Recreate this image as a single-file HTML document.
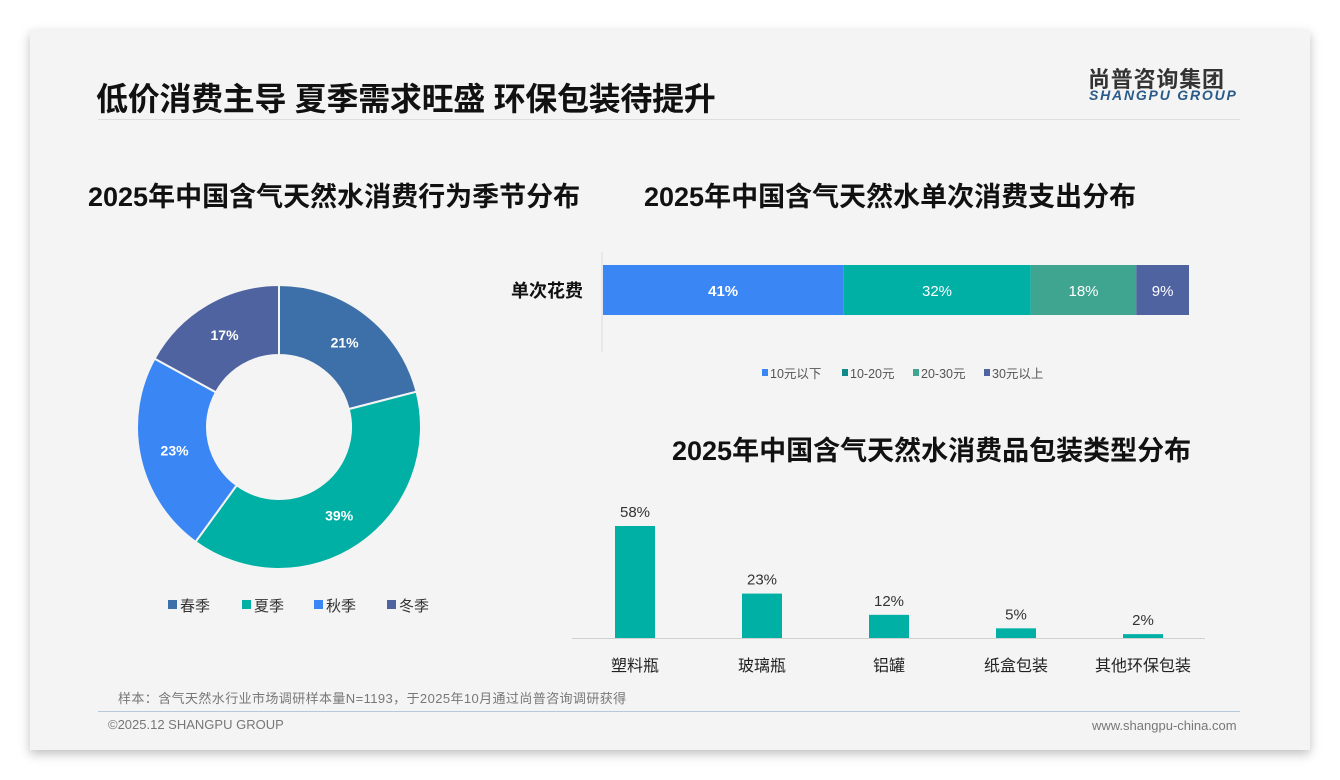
<!DOCTYPE html>
<html><head><meta charset="utf-8">
<style>
body{margin:0;width:1340px;height:780px;background:#fff;overflow:hidden;font-family:"Liberation Sans","Noto Sans CJK SC",sans-serif;}
#card{position:absolute;left:30px;top:30px;width:1280px;height:720px;background:#f4f4f4;box-shadow:0 4px 10px rgba(0,0,0,0.25);}
.t{position:absolute;white-space:nowrap;}
</style></head>
<body>
<div id="card"></div>
<div class="t" style="left:96px;top:74px;font-size:32px;font-weight:bold;color:#111;letter-spacing:-0.3px;">低价消费主导 夏季需求旺盛 环保包装待提升</div>
<div style="position:absolute;left:98px;top:119px;width:1142px;height:1px;background:#ddd;"></div>
<div class="t" style="left:1088px;top:62px;font-size:22px;font-weight:bold;color:#333;letter-spacing:0.8px;">尚普咨询集团</div>
<div class="t" style="left:1089px;top:87px;font-size:14px;font-weight:bold;font-style:italic;color:#2a5a8a;letter-spacing:1.8px;">SHANGPU GROUP</div>
<div class="t" style="left:88px;top:175px;font-size:27px;font-weight:bold;color:#111;">2025年中国含气天然水消费行为季节分布</div>
<div class="t" style="left:644px;top:175px;font-size:27px;font-weight:bold;color:#111;">2025年中国含气天然水单次消费支出分布</div>
<div class="t" style="left:672px;top:429px;font-size:27px;font-weight:bold;color:#111;">2025年中国含气天然水消费品包装类型分布</div>
<svg id="chart" width="1340" height="780" style="position:absolute;left:0;top:0;"></svg>
<div class="t" style="left:118px;top:688px;font-size:13px;color:#777;letter-spacing:0.4px;">样本：含气天然水行业市场调研样本量N=1193，于2025年10月通过尚普咨询调研获得</div>
<div style="position:absolute;left:98px;top:711px;width:1142px;height:1px;background:#b8c8d8;"></div>
<div class="t" style="left:108px;top:717px;font-size:13px;color:#777;">©2025.12 SHANGPU GROUP</div>
<div class="t" style="left:1092px;top:718px;font-size:13px;color:#777;">www.shangpu-china.com</div>
<script>
const seasons=['春季','夏季','秋季','冬季'];
const seasonValues=[21,39,23,17];
const seasonColors=['#3d70a8','#00b0a4','#3a86f5','#4f63a1'];
const spendCats=['10元以下','10-20元','20-30元','30元以上'];
const spendValues=[41,32,18,9];
const spendColors=['#3a86f5','#00b0a4','#3fa590','#4f63a1'];
const spendLegendColors=['#3a86f5','#0e8a8a','#3fa590','#4f63a1'];
const packCats=['塑料瓶','玻璃瓶','铝罐','纸盒包装','其他环保包装'];
const packValues=[58,23,12,5,2];
const NS='http://www.w3.org/2000/svg';
const svg=document.getElementById('chart');
function mk(tag,attrs,parent){const e=document.createElementNS(NS,tag);for(const k in attrs)e.setAttribute(k,attrs[k]);(parent||svg).appendChild(e);return e;}
function txt(x,y,s,size,fill,weight,anchor){const e=mk('text',{x:x,y:y,'font-size':size,fill:fill,'font-weight':weight||'normal','text-anchor':anchor||'middle','font-family':'Liberation Sans, Noto Sans CJK SC, sans-serif'});e.textContent=s;return e;}
// donut
const cx=279,cy=427,R=142,r=72;
let total=seasonValues.reduce((a,b)=>a+b,0),acc=0;
function pt(a,rad){return [cx+rad*Math.sin(a),cy-rad*Math.cos(a)];}
seasonValues.forEach((v,i)=>{
 const a0=acc/total*2*Math.PI;acc+=v;const a1=acc/total*2*Math.PI;
 const lg=(a1-a0)>Math.PI?1:0;
 const p0=pt(a0,R),p1=pt(a1,R),q1=pt(a1,r),q0=pt(a0,r);
 const p=mk('path',{d:`M${p0} A${R},${R} 0 ${lg} 1 ${p1} L${q1} A${r},${r} 0 ${lg} 0 ${q0}Z`,fill:seasonColors[i],stroke:'#f4f4f4','stroke-width':2});
 
 
 const m=pt((a0+a1)/2,(R+r)/2);
 const t=txt(m[0],m[1]+5,v+'%',14,'#fff','bold');
 
 
});
const legX=[168,242,314,387];
seasons.forEach((s,i)=>{
 const g=mk('g',{});
 
 
 mk('rect',{x:legX[i],y:600,width:9,height:9,fill:seasonColors[i]},g);
 const t=txt(legX[i]+12,611,s,15,'#333','normal','start');g.appendChild(t);
});
// stacked bar
const sx0=603,sw=586,sy=265,sh=50;
mk('line',{x1:602,y1:252,x2:602,y2:352,stroke:'#ddd'});
const yl=txt(583,297,'单次花费',18,'#111','bold','end');


const sTot=spendValues.reduce((a,b)=>a+b,0);let sacc=0;
spendValues.forEach((v,i)=>{
 const x=sx0+sacc/sTot*sw,w=v/sTot*sw;sacc+=v;
 const rc=mk('rect',{x:x,y:sy,width:w,height:sh,fill:spendColors[i]});
 
 
 const t=txt(x+w/2,sy+31,v+'%',15,'#fff',i==0?'bold':'normal');
 
 
});
const sLegX=[762,842,913,984];
spendCats.forEach((s,i)=>{
 const g=mk('g',{});
 
 
 mk('rect',{x:sLegX[i],y:369,width:6,height:7,fill:spendLegendColors[i]},g);
 g.appendChild(txt(sLegX[i]+8,378,s,12.5,'#555','normal','start'));
});
// bar chart
const base=638,scale=112/58,bw=40,c0=635,step=127;
mk('line',{x1:572,y1:base+0.5,x2:1205,y2:base+0.5,stroke:'#d0d0d0'});
packValues.forEach((v,i)=>{
 const cxb=c0+i*step,h=v*scale;
 const rc=mk('rect',{x:cxb-bw/2,y:base-h,width:bw,height:h,fill:'#00b0a4'});
 
 
 const t=txt(cxb,base-h-9,v+'%',15,'#333');
 
 
 const c=txt(cxb,671,packCats[i],16,'#222');
 
 
});
</script>
</body></html>
